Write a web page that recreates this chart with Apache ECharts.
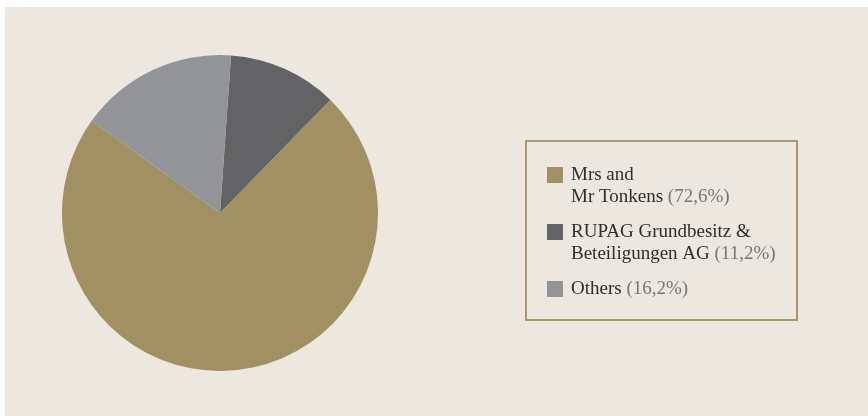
<!DOCTYPE html>
<html>
<head>
<meta charset="utf-8">
<script src="https://cdn.jsdelivr.net/npm/echarts@6/dist/echarts.min.js"></script>
<style>
  html, body { margin: 0; padding: 0; background: #ffffff; }
  #chart { width: 868px; height: 416px; }
</style>
</head>
<body>
<div id="chart"></div>
<script>
// Data
const categories = ['Mrs and Mr Tonkens', 'RUPAG Grundbesitz & Beteiligungen AG', 'Others'];
const legendLines = [['Mrs and', 'Mr Tonkens'], ['RUPAG Grundbesitz &', 'Beteiligungen AG'], ['Others']];
const percentLabels = ['(72,6%)', '(11,2%)', '(16,2%)'];
const values = [72.6, 11.2, 16.2];
const colors = ['#a19162', '#636366', '#939498'];
// Pie drawing order (clockwise from just right of top)
const drawOrder = [1, 0, 2];

const chart = echarts.init(document.getElementById('chart'), null, { renderer: 'canvas' });

const serif = '"Liberation Serif", "DejaVu Serif", serif';
const rich = {
  g: { width: 8, height: 16 },
  ind: { width: 24, height: 16 },
  n: { fontFamily: serif, fontSize: 19, color: '#2e2e2e', lineHeight: 22 },
  p: { fontFamily: serif, fontSize: 19, color: '#767676', lineHeight: 22 }
};
colors.forEach((c, i) => { rich['s' + i] = { width: 16, height: 16, backgroundColor: c }; });

function legendText(name) {
  const i = categories.indexOf(name);
  const lines = legendLines[i];
  let out = '';
  lines.forEach((ln, k) => {
    const isLast = k === lines.length - 1;
    const prefix = k === 0 ? '{s' + i + '|}{g|}' : '{ind|}';
    out += prefix + '{n|' + ln + '}' + (isLast ? '{n| }{p|' + percentLabels[i] + '}' : '');
    if (!isLast) out += '\n';
  });
  return out;
}

const option = {
  animation: false,
  backgroundColor: '#ffffff',
  graphic: [
    { type: 'rect', z: -10, shape: { x: 5, y: 7, width: 863, height: 409 }, style: { fill: '#ece8df' }, silent: true },
    { type: 'rect', z: 10, shape: { x: 526, y: 141, width: 271, height: 179 }, style: { fill: 'none', stroke: '#a8986a', lineWidth: 2 }, silent: true }
  ],
  legend: {
    orient: 'vertical',
    left: 542,
    top: 164,
    padding: 0,
    itemGap: 13,
    itemWidth: 0,
    itemHeight: 0,
    itemStyle: { opacity: 0 },
    selectedMode: false,
    data: categories,
    formatter: legendText,
    textStyle: { fontFamily: serif, fontSize: 19, color: '#2e2e2e', lineHeight: 22, rich: rich }
  },
  series: [{
    type: 'pie',
    center: [220, 213],
    radius: 158,
    startAngle: 86,
    clockwise: true,
    label: { show: false },
    labelLine: { show: false },
    emphasis: { disabled: true },
    itemStyle: { borderWidth: 0 },
    data: drawOrder.map(i => ({ name: categories[i], value: values[i], itemStyle: { color: colors[i] } }))
  }]
};
chart.setOption(option);
</script>
</body>
</html>
